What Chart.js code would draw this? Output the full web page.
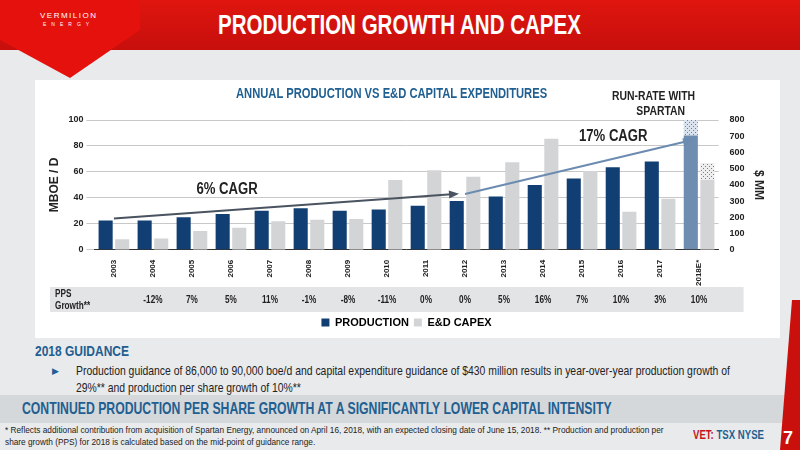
<!DOCTYPE html>
<html>
<head>
<meta charset="utf-8">
<script src="https://cdn.jsdelivr.net/npm/chart.js@4"></script>
<style>
  body { margin: 0; width: 800px; height: 450px; overflow: hidden; background: #e9eaec; font-family: "Liberation Sans", sans-serif; position: relative; }
  .n { transform-origin: left top; transform: scaleX(0.8); white-space: nowrap; }
  .hdr { position: absolute; left: 0; top: 0; width: 800px; height: 50px; background: linear-gradient(#e0150f, #c70f0c); }
  .hdr h1 { margin: 0; position: absolute; left: 218px; top: 10px; color: #fff; font-size: 27px; font-weight: bold; }
  .logo { position: absolute; left: 0; top: 0; width: 140px; height: 80px; background: #e4110d; clip-path: polygon(0 0, 140px 0, 140px 30px, 70px 78px, 0 40px); }
  .logo .t { position: absolute; left: 40px; top: 11px; color: #fff; font-size: 8px; letter-spacing: 1.5px; }
  .logo .e { position: absolute; left: 43px; top: 21px; color: #fff; font-size: 5px; letter-spacing: 5px; }
  .panel { position: absolute; left: 35px; top: 80px; width: 745px; height: 258px; background: #fff; }
  .ctitle { position: absolute; left: 236px; top: 85px; color: #1f5f91; font-weight: bold; font-size: 14px; }
  .runrate { position: absolute; left: 612px; top: 88px; font-weight: bold; font-size: 13px; color: #222; line-height: 15px; text-align: center; }
  .guid { position: absolute; left: 35px; top: 342px; color: #1f5f91; font-weight: bold; font-size: 15px; }
  .bul { position: absolute; left: 50px; top: 362px; font-size: 13px; color: #222; line-height: 17px; }
  .arrow { position: absolute; left: 52px; top: 366px; color: #1f5f91; font-size: 9px; }
  .band { position: absolute; left: 0; top: 395px; width: 790px; height: 28px; background: #d5d8db; }
  .band span { position: absolute; left: 22px; top: 4px; color: #1f5f91; font-weight: bold; font-size: 17px; }
  .foot { position: absolute; left: 5px; top: 424px; font-size: 9px; color: #222; line-height: 12px; }
  .vet { position: absolute; left: 693px; top: 428px; font-weight: bold; font-size: 12px; color: #c2151b; }
  .vet b { color: #1f5f91; }
  .edge { position: absolute; left: 780px; top: 300px; width: 20px; height: 150px; background: #c9100c; clip-path: polygon(60% 0, 100% 0, 100% 100%, 0 100%); }
  .pg { position: absolute; left: 783px; top: 428px; color: #fff; font-weight: bold; font-size: 18px; }
  #c { position: absolute; left: 35px; top: 80px; }
</style>
</head>
<body>
<div class="hdr"><h1 class="n" style="transform:scaleX(0.76)">PRODUCTION GROWTH AND CAPEX</h1></div>
<div class="logo"><div class="t">VERMILION</div><div class="e">ENERGY</div></div>
<div class="panel"></div>
<canvas id="c" width="745" height="258"></canvas>
<div class="ctitle n">ANNUAL PRODUCTION VS E&amp;D CAPITAL EXPENDITURES</div>
<div class="runrate n">RUN-RATE WITH<br>&nbsp;&nbsp;&nbsp;&nbsp;&nbsp;SPARTAN</div>
<div class="guid n">2018 GUIDANCE</div>
<div class="arrow">&#9654;</div>
<div class="bul n" style="left:76px">Production guidance of 86,000 to 90,000 boe/d and capital expenditure guidance of $430 million results in year-over-year production growth of<br>29%** and production per share growth of 10%**</div>
<div class="band"><span class="n" style="transform:scaleX(0.72)">CONTINUED PRODUCTION PER SHARE GROWTH AT A SIGNIFICANTLY LOWER CAPITAL INTENSITY</span></div>
<div class="foot n" style="transform:scaleX(0.92)">* Reflects additional contribution from acquisition of Spartan Energy, announced on April 16, 2018, with an expected closing date of June 15, 2018. ** Production and production per<br>share growth (PPS) for 2018 is calculated based on the mid-point of guidance range.</div>
<div class="vet n">VET: <b>TSX NYSE</b></div>
<div class="edge"></div>
<div class="pg">7</div>
<script>
const years = ["2003","2004","2005","2006","2007","2008","2009","2010","2011","2012","2013","2014","2015","2016","2017","2018E*"];
const production = [22.5,22.5,25,27.5,30,32,30,31,34,37.5,41,50,55,63.5,68,88];
const productionSpartan = [0,0,0,0,0,0,0,0,0,0,0,0,0,0,0,12];
const capex = [65,70,115,135,175,185,190,430,490,450,540,685,485,235,315,430];
const capexSpartan = [0,0,0,0,0,0,0,0,0,0,0,0,0,0,0,105];
const ppsGrowth = ["","-12%","7%","5%","11%","-1%","-8%","-11%","0%","0%","5%","16%","7%","10%","3%","10%"];
const cagrLines = [
  { from: 0, y0: 24, to: 9, y1: 43, label: "6% CAGR", at: 2.9, ly: 46, color: "#4a5360" },
  { from: 9, y0: 43, to: 15, y1: 84, label: "17% CAGR", at: 12.8, ly: 87, color: "#6c8bb0" }
];
const FONT = "'Liberation Sans', sans-serif";

function hatch(bg) {
  const p = document.createElement("canvas");
  p.width = 4; p.height = 4;
  const g = p.getContext("2d");
  g.fillStyle = bg; g.fillRect(0, 0, 4, 4);
  g.fillStyle = "#6f7f95";
  g.fillRect(0, 0, 1, 1); g.fillRect(2, 2, 1, 1);
  return g.createPattern(p, "repeat");
}

const ctx = document.getElementById("c").getContext("2d");
const prodColors = years.map((y, i) => i === years.length - 1 ? "#6f8cb1" : "#123f73");

function narrowText(ctx, text, x, y, align) {
  ctx.save();
  ctx.translate(x, y);
  ctx.scale(0.82, 1);
  ctx.textAlign = align;
  ctx.fillText(text, 0, 0);
  ctx.restore();
}

const overlay = {
  id: "overlay",
  afterDatasetsDraw(chart) {
    const { ctx, scales } = chart;
    const x = scales.x, y = scales.y;
    ctx.save();
    cagrLines.forEach(l => {
      const x0 = x.getPixelForValue(l.from), x1 = x.getPixelForValue(l.to) - 10;
      const py0 = y.getPixelForValue(l.y0), py1 = y.getPixelForValue(l.y1);
      ctx.strokeStyle = l.color; ctx.fillStyle = l.color; ctx.lineWidth = 2;
      ctx.beginPath(); ctx.moveTo(x0, py0); ctx.lineTo(x1, py1); ctx.stroke();
      const a = Math.atan2(py1 - py0, x1 - x0);
      ctx.beginPath();
      ctx.moveTo(x1 + 4 * Math.cos(a), py1 + 4 * Math.sin(a));
      ctx.lineTo(x1 - 6 * Math.cos(a) + 4 * Math.sin(a), py1 - 6 * Math.sin(a) - 4 * Math.cos(a));
      ctx.lineTo(x1 - 6 * Math.cos(a) - 4 * Math.sin(a), py1 - 6 * Math.sin(a) + 4 * Math.cos(a));
      ctx.closePath(); ctx.fill();
      ctx.fillStyle = "#222";
      ctx.font = "bold 16px " + FONT;
      ctx.textBaseline = "middle";
      narrowText(ctx, l.label, x.getPixelForValue(l.at), y.getPixelForValue(l.ly), "center");
    });
    // PPS growth row
    const rowTop = x.bottom - 25;
    ctx.fillStyle = "#e3e4e6";
    ctx.fillRect(15, rowTop, x.right + 10, 25);
    ctx.fillStyle = "#222";
    ctx.textBaseline = "alphabetic";
    ctx.font = "bold 10px " + FONT;
    narrowText(ctx, "PPS", 20, rowTop + 10, "left");
    narrowText(ctx, "Growth**", 20, rowTop + 22, "left");
    ppsGrowth.forEach((v, i) => narrowText(ctx, v, x.getPixelForValue(i), rowTop + 16, "center"));
    ctx.restore();
  }
};

new Chart(ctx, {
  type: "bar",
  data: {
    labels: years,
    datasets: [
      { label: "PRODUCTION", data: production, backgroundColor: prodColors, yAxisID: "y", stack: "p", barPercentage: 0.85, categoryPercentage: 0.85 },
      { label: "spartanP", data: productionSpartan, backgroundColor: hatch("#dbe3ee"), yAxisID: "y", stack: "p", barPercentage: 0.85, categoryPercentage: 0.85 },
      { label: "E&D CAPEX", data: capex, backgroundColor: "#d3d4d6", yAxisID: "y1", stack: "c", barPercentage: 0.85, categoryPercentage: 0.85 },
      { label: "spartanC", data: capexSpartan, backgroundColor: hatch("#eeeeee"), yAxisID: "y1", stack: "c", barPercentage: 0.85, categoryPercentage: 0.85 }
    ]
  },
  options: {
    responsive: false,
    animation: false,
    layout: { padding: { top: 40, right: 10, left: 8, bottom: 0 } },
    plugins: {
      tooltip: { enabled: false },
      legend: {
        position: "bottom",
        labels: {
          boxWidth: 8, boxHeight: 8, padding: 5,
          color: "#222",
          font: { family: FONT, size: 11, weight: "bold" },
          generateLabels: chart => [
            { text: "PRODUCTION", fillStyle: "#123f73", strokeStyle: "#123f73", lineWidth: 0, datasetIndex: 0 },
            { text: "E&D CAPEX", fillStyle: "#d3d4d6", strokeStyle: "#d3d4d6", lineWidth: 0, datasetIndex: 2 }
          ]
        }
      }
    },
    scales: {
      x: {
        stacked: true,
        grid: { display: false },
        border: { color: "#333" },
        afterFit: s => { s.height += 24; },
        ticks: { maxRotation: 90, minRotation: 90, padding: 2, color: "#222", font: { family: FONT, size: 8, weight: "bold" } }
      },
      y: {
        stacked: true, min: 0, max: 100,
        ticks: { stepSize: 20, color: "#222", font: { family: FONT, size: 9, weight: "bold" } },
        grid: { color: "#c8c8c8" }, border: { display: false },
        title: { display: true, text: "MBOE / D", color: "#222", font: { family: FONT, size: 12, weight: "bold" } }
      },
      y1: {
        stacked: true, min: 0, max: 800, position: "right",
        ticks: { stepSize: 100, color: "#222", font: { family: FONT, size: 9, weight: "bold" } },
        grid: { display: false }, border: { display: false },
        title: { display: true, text: "$ MM", color: "#222", font: { family: FONT, size: 12, weight: "bold" } }
      }
    }
  },
  plugins: [overlay]
});
</script>
</body>
</html>
